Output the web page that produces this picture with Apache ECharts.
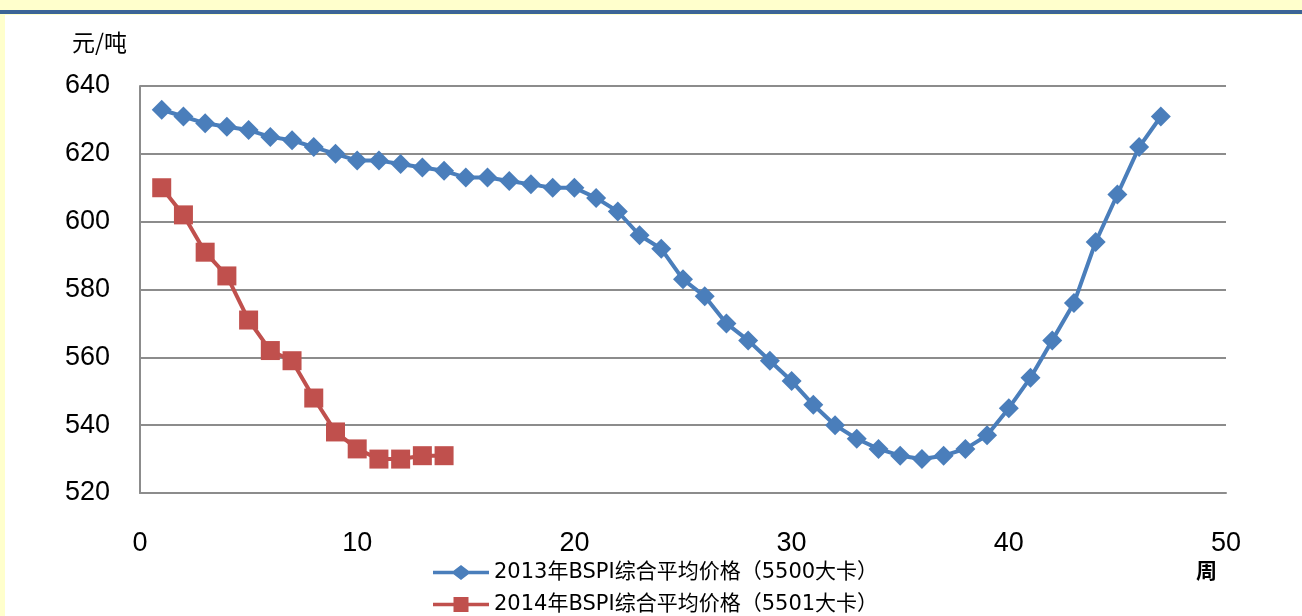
<!DOCTYPE html>
<html>
<head>
<meta charset="utf-8">
<script src="https://cdn.jsdelivr.net/npm/echarts@6/dist/echarts.min.js"></script>
<style>
  html, body { margin: 0; padding: 0; }
  body { width: 1302px; height: 616px; background: #ffffcc; position: relative; overflow: hidden; }
  #topline { position: absolute; left: 0; top: 10px; width: 1302px; height: 4px; background: #3b6496; }
  #paper { position: absolute; left: 5px; top: 15px; width: 1297px; height: 601px; background: #ffffff; }
  #main { position: absolute; left: 0; top: 0; width: 1302px; height: 616px; }
</style>
</head>
<body>
<div id="topline"></div>
<div id="paper"></div>
<div id="main"></div>
<script>
// 周次
var weeks2013 = [1,2,3,4,5,6,7,8,9,10,11,12,13,14,15,16,17,18,19,20,21,22,23,24,25,26,27,28,29,30,31,32,33,34,35,36,37,38,39,40,41,42,43,44,45,46,47];
var weeks2014 = [1,2,3,4,5,6,7,8,9,10,11,12,13,14];
// 价格 元/吨
var price2013 = [633,631,629,628,627,625,624,622,620,618,618,617,616,615,613,613,612,611,610,610,
                 607,603,596,592,583,578,570,565,559,553,546,540,536,533,531,530,531,533,537,545,
                 554,565,576,594,608,622,631];
var price2014 = [610,602,591,584,571,562,559,548,538,533,530,530,531,531];
var name2013 = '2013年BSPI综合平均价格（5500大卡）';
var name2014 = '2014年BSPI综合平均价格（5501大卡）';

function pairs(xs, ys) {
  var out = [];
  for (var i = 0; i < xs.length; i++) out.push([xs[i], ys[i]]);
  return out;
}

var numFont = '"Liberation Sans", Arial, sans-serif';
var cjkFont = '"Noto Sans CJK SC", sans-serif';
var legendFont = '"DejaVu Sans", "Noto Sans CJK SC", sans-serif';

// 图例图标：粗线 + 中间的标记
var iconDiamond = 'path://M0,5.8L20.5,5.8L28,0L35.5,5.8L56,5.8L56,9.2L35.5,9.2L28,15L20.5,9.2L0,9.2Z';
var iconSquare = 'path://M0,5.8L20.5,5.8L20.5,0L35.5,0L35.5,5.8L56,5.8L56,9.2L35.5,9.2L35.5,15L20.5,15L20.5,9.2L0,9.2Z';

function legendAt(top, name, icon) {
  return {
    orient: 'vertical',
    left: 428,
    top: top,
    itemWidth: 56,
    itemHeight: 15,
    itemGap: 0,
    icon: icon,
    textStyle: { fontFamily: legendFont, fontSize: 21, color: '#000' },
    data: [name]
  };
}

var myChart = echarts.init(document.getElementById('main'), null, { renderer: 'canvas' });
var option = {
  backgroundColor: 'transparent',
  animation: false,
  grid: { left: 140, right: 76, top: 86, bottom: 123 },
  legend: [legendAt(557, name2013, iconDiamond), legendAt(589, name2014, iconSquare)],
  xAxis: {
    type: 'value',
    min: 0, max: 50, interval: 10,
    axisLine: { show: true, lineStyle: { color: '#8c8c8c', width: 2 } },
    axisTick: { show: false },
    splitLine: { show: false },
    axisLabel: { fontFamily: numFont, fontSize: 27, color: '#000', margin: 37 }
  },
  yAxis: {
    type: 'value',
    min: 520, max: 640, interval: 20,
    axisLine: { show: true, lineStyle: { color: '#8c8c8c', width: 2 } },
    axisTick: { show: false },
    splitLine: { show: true, lineStyle: { color: '#8c8c8c', width: 2 } },
    axisLabel: { fontFamily: numFont, fontSize: 27, color: '#000', margin: 30 }
  },
  graphic: [
    { type: 'text', left: 72, top: 31, style: { text: '元/吨', font: '23px ' + cjkFont, fill: '#000' } },
    { type: 'text', left: 1196, top: 560, style: { text: '周', font: 'bold 21px ' + cjkFont, fill: '#000' } }
  ],
  series: [
    {
      name: name2013,
      type: 'line',
      data: pairs(weeks2013, price2013),
      symbol: 'diamond',
      symbolSize: 20,
      lineStyle: { color: '#4a7ebb', width: 4 },
      itemStyle: { color: '#4a7ebb' }
    },
    {
      name: name2014,
      type: 'line',
      data: pairs(weeks2014, price2014),
      symbol: 'rect',
      symbolSize: 19,
      lineStyle: { color: '#c0504d', width: 4 },
      itemStyle: { color: '#c0504d' }
    }
  ]
};
myChart.setOption(option);
</script>
</body>
</html>
